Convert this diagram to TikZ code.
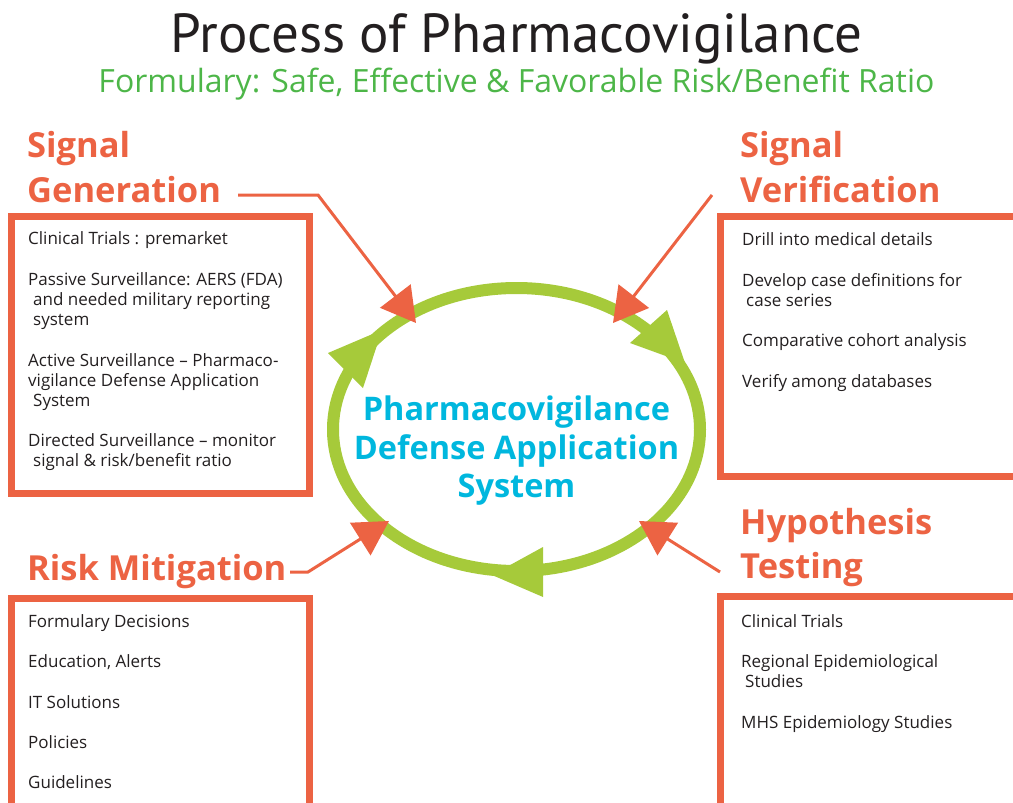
\documentclass[tikz,border=0pt]{standalone}
\usepackage{fontspec}
\setmainfont{Open Sans}
\newfontfamily\titlefont{PT Sans}
\usetikzlibrary{arrows.meta}

\definecolor{pvorange}{RGB}{236,99,67}
\definecolor{pvring}{RGB}{166,202,58}
\definecolor{pvsub}{RGB}{77,182,72}
\definecolor{pvcyan}{RGB}{0,183,222}
\definecolor{pvtext}{RGB}{35,31,32}

\begin{document}
\begin{tikzpicture}[x=1pt, y=-1pt,
    hdr/.style={anchor=base west, inner sep=0pt, text=pvorange, font=\fontsize{34.5}{40}\selectfont\bfseries},
    item/.style={anchor=base west, inner sep=0pt, text=pvtext, font=\fontsize{17}{20}\selectfont},
    frame/.style={draw=pvorange, line width=7pt, inner sep=0pt, outer sep=0pt, anchor=north west},
    feed/.style={draw=pvorange, line width=3pt, -{Triangle[length=34pt, width=38pt]}},
    ring/.style={draw=pvring, line width=12pt},
  ]
  \useasboundingbox (0,0) rectangle (1013,803);

  \node[anchor=base, inner sep=0pt, text=pvtext, font=\titlefont\fontsize{55}{60}\selectfont] (title) at (516.5,52) {Process of Pharmacovigilance};
  \node[anchor=base, inner sep=0pt, text=pvsub, font=\fontsize{32}{36}\selectfont] (subtitle) at (516.5,92) {Formulary: Safe, Effective \& Favorable Risk/Benefit Ratio};

  % the four frames
  \node[frame, minimum width=298pt, minimum height=277pt] (sgbox) at (11.5,216.5) {};
  \node[frame, minimum width=309.5pt, minimum height=260pt] (svbox) at (720.5,216.5) {};
  \node[frame, minimum width=298pt, minimum height=231.5pt] (rmbox) at (11.5,598.5) {};
  \node[frame, minimum width=309.5pt, minimum height=233.5pt] (htbox) at (720.5,596.5) {};

  % headings
  \node[hdr] (sgA) at (27,157) {Signal};
  \node[hdr] (sgB) at (27,202) {Generation};
  \node[hdr] (svA) at (740,157) {Signal};
  \node[hdr] (svB) at (740,202) {Verification};
  \node[hdr] (rm) at (27,580) {Risk Mitigation};
  \node[hdr] (htA) at (740,534) {Hypothesis};
  \node[hdr] (htB) at (740,578) {Testing};

  % box contents
  \foreach \x/\y/\t [count=\i] in {28/244/Clinical Trials : premarket,
      28/285/Passive Surveillance: AERS (FDA), 33/305/and needed military reporting, 33/325/system,
      28/366/Active Surveillance -- Pharmaco-, 28/386/vigilance Defense Application, 33/406/System,
      28/446/Directed Surveillance -- monitor, 33/466/{signal \& risk/benefit ratio}}
    \node[item] (sg\i) at (\x,\y) {\t};
  \foreach \x/\y/\t [count=\i] in {742/245/Drill into medical details,
      742/286/Develop case definitions for, 746/306/case series,
      742/346/Comparative cohort analysis, 742/387/Verify among databases}
    \node[item] (sv\i) at (\x,\y) {\t};
  \foreach \y/\t [count=\i] in {627/Formulary Decisions, 667/{Education, Alerts}, 708/IT Solutions, 748/Policies, 788/Guidelines}
    \node[item] (rm\i) at (28,\y) {\t};
  \foreach \x/\y/\t [count=\i] in {741/627/Clinical Trials, 741/667/Regional Epidemiological, 745/687/Studies,
      741/728/MHS Epidemiology Studies}
    \node[item] (ht\i) at (\x,\y) {\t};

  % cycle
  \draw[ring] (516.5,429.5) ellipse [x radius=183.5, y radius=141.5];
  \fill[pvring] (630,343) -- (667,310) -- (685,363) -- cycle;
  \fill[pvring] (543,547) -- (543,597) -- (492,575) -- cycle;
  \fill[pvring] (363,388) -- (328,353) -- (382,330) -- cycle;
  \node[align=center, inner sep=0pt, text=pvcyan, font=\fontsize{32.5}{38.5}\selectfont\bfseries] (pdas) at (516.5,451) {Pharmacovigilance\\Defense Application\\System};

  % feeds into the cycle
  \coordinate (sgout) at (238,195);
  \coordinate (sgbend) at (318,195);
  \coordinate (sgtip) at (416,323);
  \coordinate (svout) at (712,195);
  \coordinate (svtip) at (613,323);
  \coordinate (rmout) at (290,572);
  \coordinate (rmbend) at (308,572);
  \coordinate (rmtip) at (389,521);
  \coordinate (htout) at (720,572);
  \coordinate (httip) at (639,521);
  \draw[feed] (sgout) -- (sgbend) -- (sgtip);
  \draw[feed] (svout) -- (svtip);
  \draw[feed] (rmout) -- (rmbend) -- (rmtip);
  \draw[feed] (htout) -- (httip);
\end{tikzpicture}
\end{document}
